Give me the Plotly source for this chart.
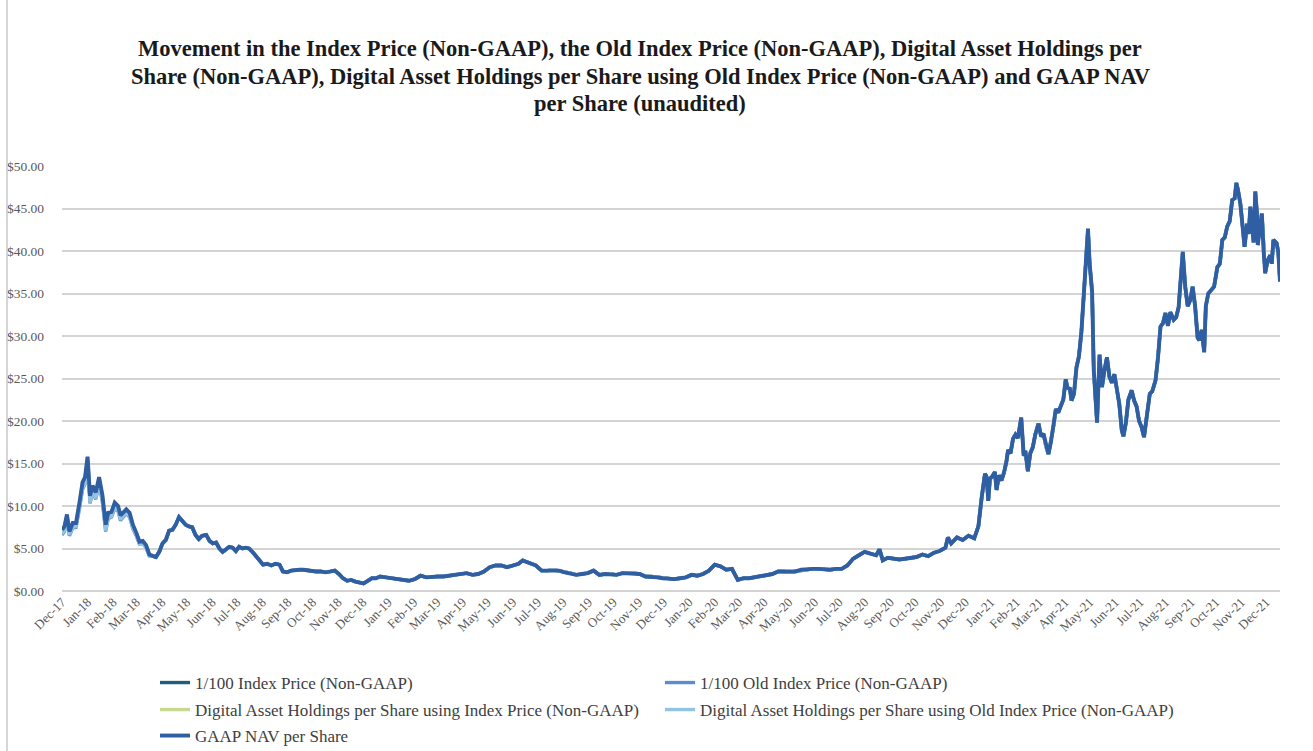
import plotly.graph_objects as go

# ---------------- data ----------------
dates_2017_2018 = [
    "2017-12-14", "2017-12-17", "2017-12-20", "2017-12-23", "2017-12-27", "2017-12-31",
    "2018-01-04", "2018-01-08", "2018-01-11", "2018-01-14", "2018-01-17", "2018-01-20", "2018-01-24", "2018-01-28",
    "2018-02-01", "2018-02-05", "2018-02-08", "2018-02-12", "2018-02-16", "2018-02-20", "2018-02-23", "2018-02-27",
    "2018-03-02", "2018-03-06", "2018-03-10", "2018-03-14", "2018-03-18", "2018-03-22", "2018-03-26", "2018-03-30",
    "2018-04-03", "2018-04-07", "2018-04-11", "2018-04-15", "2018-04-19", "2018-04-23", "2018-04-27",
    "2018-05-01", "2018-05-05", "2018-05-09", "2018-05-13", "2018-05-17", "2018-05-21", "2018-05-25", "2018-05-29",
    "2018-06-02", "2018-06-07", "2018-06-11", "2018-06-15", "2018-06-19", "2018-06-23", "2018-06-27",
    "2018-07-01", "2018-07-05", "2018-07-09", "2018-07-13", "2018-07-17", "2018-07-21", "2018-07-25", "2018-07-29",
    "2018-08-03", "2018-08-07", "2018-08-11", "2018-08-15", "2018-08-20", "2018-08-25", "2018-08-30",
    "2018-09-04", "2018-09-08", "2018-09-13", "2018-09-18", "2018-09-23", "2018-09-28",
    "2018-10-03", "2018-10-08", "2018-10-13", "2018-10-18", "2018-10-24", "2018-10-30",
    "2018-11-05", "2018-11-10", "2018-11-15", "2018-11-20", "2018-11-25", "2018-11-30",
    "2018-12-05", "2018-12-10", "2018-12-15", "2018-12-20", "2018-12-25", "2018-12-30",
]
dates_2019 = [
    "2019-01-04", "2019-01-11", "2019-01-18", "2019-01-25",
    "2019-02-01", "2019-02-08", "2019-02-15", "2019-02-22",
    "2019-03-01", "2019-03-08", "2019-03-15", "2019-03-22", "2019-03-29",
    "2019-04-05", "2019-04-12", "2019-04-19", "2019-04-26",
    "2019-05-03", "2019-05-10", "2019-05-17", "2019-05-24", "2019-05-31",
    "2019-06-07", "2019-06-14", "2019-06-21", "2019-06-26",
    "2019-07-05", "2019-07-12", "2019-07-19", "2019-07-26",
    "2019-08-02", "2019-08-09", "2019-08-16", "2019-08-23", "2019-08-30",
    "2019-09-06", "2019-09-13", "2019-09-20", "2019-09-27",
    "2019-10-04", "2019-10-11", "2019-10-18", "2019-10-25",
    "2019-11-01", "2019-11-08", "2019-11-15", "2019-11-22", "2019-11-29",
    "2019-12-06", "2019-12-13", "2019-12-20", "2019-12-27",
]
dates_2020 = [
    "2020-01-03", "2020-01-10", "2020-01-17", "2020-01-24", "2020-01-31",
    "2020-02-07", "2020-02-14", "2020-02-21", "2020-02-28",
    "2020-03-06", "2020-03-13", "2020-03-20", "2020-03-27",
    "2020-04-03", "2020-04-10", "2020-04-17", "2020-04-24",
    "2020-05-01", "2020-05-08", "2020-05-15", "2020-05-22", "2020-05-29",
    "2020-06-05", "2020-06-12", "2020-06-19", "2020-06-26",
    "2020-07-03", "2020-07-10", "2020-07-17", "2020-07-24", "2020-07-31",
    "2020-08-07", "2020-08-14", "2020-08-21", "2020-08-28",
    "2020-09-01", "2020-09-05", "2020-09-11", "2020-09-18", "2020-09-25",
    "2020-10-02", "2020-10-09", "2020-10-16", "2020-10-23", "2020-10-30",
    "2020-11-06", "2020-11-13", "2020-11-20", "2020-11-23", "2020-11-27",
    "2020-12-04", "2020-12-11", "2020-12-18", "2020-12-25", "2020-12-30",
]
dates_2021 = [
    "2021-01-03", "2021-01-05", "2021-01-07", "2021-01-09", "2021-01-11", "2021-01-13",
    "2021-01-16", "2021-01-19", "2021-01-21", "2021-01-24", "2021-01-27", "2021-01-30",
    "2021-02-02", "2021-02-04", "2021-02-07", "2021-02-10", "2021-02-13", "2021-02-16",
    "2021-02-19", "2021-02-20", "2021-02-23", "2021-02-25", "2021-02-28",
    "2021-03-03", "2021-03-06", "2021-03-09", "2021-03-13", "2021-03-16", "2021-03-19",
    "2021-03-22", "2021-03-25", "2021-03-28", "2021-03-31",
    "2021-04-03", "2021-04-06", "2021-04-09", "2021-04-12", "2021-04-15", "2021-04-17",
    "2021-04-20", "2021-04-22", "2021-04-25", "2021-04-28",
    "2021-05-01", "2021-05-04", "2021-05-07", "2021-05-10", "2021-05-12", "2021-05-14",
    "2021-05-17", "2021-05-19", "2021-05-21", "2021-05-23", "2021-05-26", "2021-05-29",
    "2021-06-01", "2021-06-04", "2021-06-07", "2021-06-10", "2021-06-13", "2021-06-16",
    "2021-06-19", "2021-06-22", "2021-06-24", "2021-06-27", "2021-06-30",
    "2021-07-04", "2021-07-07", "2021-07-10", "2021-07-13", "2021-07-16", "2021-07-19",
    "2021-07-22", "2021-07-26", "2021-07-29",
    "2021-08-02", "2021-08-05", "2021-08-08", "2021-08-11", "2021-08-14", "2021-08-17",
    "2021-08-20", "2021-08-24", "2021-08-27", "2021-08-30",
    "2021-09-02", "2021-09-04", "2021-09-07", "2021-09-10", "2021-09-13", "2021-09-16",
    "2021-09-19", "2021-09-22", "2021-09-24", "2021-09-27", "2021-09-30",
    "2021-10-02", "2021-10-05", "2021-10-08", "2021-10-12", "2021-10-16", "2021-10-19",
    "2021-10-22", "2021-10-25", "2021-10-28", "2021-10-31",
    "2021-11-03", "2021-11-06", "2021-11-08", "2021-11-10", "2021-11-13", "2021-11-16",
    "2021-11-18", "2021-11-21", "2021-11-23", "2021-11-25", "2021-11-27", "2021-11-29",
    "2021-12-01", "2021-12-03", "2021-12-04", "2021-12-07", "2021-12-09", "2021-12-11",
    "2021-12-13", "2021-12-16", "2021-12-19", "2021-12-21", "2021-12-23", "2021-12-27",
    "2021-12-29", "2021-12-31",
]

# Dec-2017 .. Mar-2018: the five series separate slightly (first 30 dates)
index_price_early = [7.0, 7.4, 8.8, 6.8, 7.8, 7.8,
                     10.0, 12.5, 13.1, 15.4, 10.9, 12.1, 11.3, 13.1,
                     11.0, 7.5, 8.9, 9.1, 10.1, 9.8, 8.7, 9.1,
                     9.4, 9.0, 7.6, 6.7, 5.7, 5.8, 5.3, 4.2]
old_index_price_early = [6.6, 7.0, 8.4, 6.5, 7.4, 7.5,
                         9.6, 12.0, 12.6, 15.0, 10.3, 11.6, 10.8, 12.6,
                         10.5, 7.0, 8.5, 8.7, 9.7, 9.4, 8.3, 8.8,
                         9.1, 8.7, 7.3, 6.5, 5.5, 5.6, 5.1, 4.1]
holdings_index_early = [7.1, 7.5, 8.9, 6.9, 7.9, 7.9,
                        10.2, 12.7, 13.3, 15.6, 11.0, 12.3, 11.5, 13.3,
                        11.2, 7.7, 9.1, 9.2, 10.3, 9.9, 8.8, 9.2,
                        9.5, 9.1, 7.7, 6.8, 5.8, 5.9, 5.4, 4.3]
holdings_old_index_early = [6.7, 7.1, 8.5, 6.6, 7.5, 7.6,
                            9.7, 12.1, 12.7, 15.1, 10.4, 11.7, 10.9, 12.7,
                            10.6, 7.1, 8.6, 8.8, 9.8, 9.5, 8.4, 8.9,
                            9.2, 8.8, 7.4, 6.6, 5.5, 5.6, 5.1, 4.1]
gaap_nav_early = [7.2, 7.6, 9.0, 7.0, 8.0, 8.0,
                  10.3, 12.8, 13.4, 15.8, 11.2, 12.4, 11.6, 13.4,
                  11.3, 7.8, 9.2, 9.3, 10.4, 10.0, 8.9, 9.3,
                  9.6, 9.2, 7.8, 6.9, 5.8, 5.9, 5.4, 4.3]

# Apr-2018 .. Dec-2021: all five series coincide within the line width
shared_2018 = [4.1, 4.0, 4.6, 5.6, 6.0, 7.1, 7.2,
               7.8, 8.7, 8.2, 7.8, 7.6, 7.5, 6.6, 6.1,
               6.5, 6.6, 5.9, 5.6, 5.7, 5.0, 4.6,
               4.9, 5.2, 5.1, 4.7, 5.2, 5.0, 5.1, 5.0,
               4.5, 4.0, 3.6, 3.1, 3.2, 3.0, 3.2,
               3.1, 2.3, 2.2, 2.4, 2.5, 2.5,
               2.5, 2.4, 2.3, 2.3, 2.3, 2.2,
               2.3, 2.4, 2.0, 1.5, 1.2, 1.3,
               1.1, 0.95, 0.9, 1.2, 1.5, 1.5]
shared_2019 = [1.7, 1.6, 1.5, 1.5,
               1.3, 1.2, 1.4, 1.8,
               1.6, 1.7, 1.7, 1.7, 1.8,
               2.0, 2.0, 2.1, 1.9,
               2.0, 2.3, 2.8, 3.0, 3.0,
               2.8, 3.0, 3.2, 3.6,
               3.3, 3.0, 2.4, 2.4,
               2.5, 2.4, 2.2, 2.1, 1.9,
               2.0, 2.1, 2.4, 1.9,
               2.0, 2.0, 1.9, 2.1,
               2.1, 2.1, 2.0, 1.7, 1.7,
               1.6, 1.5, 1.4, 1.4]
shared_2020 = [1.5, 1.6, 1.9, 1.8, 2.0,
               2.4, 3.1, 2.9, 2.5,
               2.6, 1.3, 1.5, 1.5,
               1.6, 1.8, 1.9, 2.0,
               2.3, 2.3, 2.2, 2.3, 2.5,
               2.6, 2.6, 2.6, 2.5,
               2.5, 2.6, 2.6, 3.0, 3.8,
               4.2, 4.6, 4.4, 4.2,
               4.9, 3.6, 3.9, 3.8, 3.7,
               3.8, 3.9, 4.0, 4.3, 4.1,
               4.5, 4.7, 5.1, 6.3, 5.6,
               6.3, 6.0, 6.5, 6.2, 7.6]
shared_2021 = [11.0, 12.6, 13.8, 13.4, 10.6, 13.2, 13.5, 14.0, 11.9, 13.6, 13.0, 13.9,
               15.2, 16.6, 16.2, 17.9, 18.4, 18.0, 19.9, 20.4, 15.9, 16.5, 14.1,
               16.2, 16.9, 18.4, 19.7, 18.2, 18.5, 17.0, 16.1, 17.5, 19.3,
               21.4, 21.0, 21.8, 22.5, 24.9, 23.9, 23.8, 22.4, 23.2, 26.3,
               27.6, 30.5, 35.0, 39.8, 42.6, 38.5, 35.2, 26.0, 23.5, 19.8, 27.8, 24.0,
               26.0, 27.5, 25.2, 24.5, 25.5, 24.0, 22.0, 18.9, 18.2, 19.8, 22.5,
               23.6, 22.4, 21.7, 20.0, 19.3, 18.1, 20.3, 23.2, 23.5,
               24.8, 27.5, 31.1, 31.5, 32.7, 31.2, 32.8, 31.9, 32.2, 33.4,
               37.8, 39.9, 35.8, 33.5, 34.2, 35.8, 33.5, 29.8, 29.5, 30.7, 28.1,
               33.5, 35.0, 35.3, 35.8, 38.1, 38.5, 41.3, 41.6, 42.9, 43.5,
               46.0, 46.2, 48.0, 47.2, 45.5, 42.8, 40.5, 43.2, 42.0, 45.2, 42.5, 41.0,
               47.0, 44.5, 40.7, 43.5, 44.4, 40.2, 37.4, 38.9, 39.5, 38.5, 41.3, 40.9,
               39.8, 36.4]

series_names = [
    "1/100 Index Price (Non-GAAP)",
    "1/100 Old Index Price (Non-GAAP)",
    "Digital Asset Holdings per Share using Index Price (Non-GAAP)",
    "Digital Asset Holdings per Share using Old Index Price (Non-GAAP)",
    "GAAP NAV per Share",
]
y_tick_values = [0, 5, 10, 15, 20, 25, 30, 35, 40, 45, 50]
y_tick_labels = ["$0.00", "$5.00", "$10.00", "$15.00", "$20.00", "$25.00",
                 "$30.00", "$35.00", "$40.00", "$45.00", "$50.00"]
title_lines = [
    "Movement in the Index Price (Non-GAAP), the Old Index Price (Non-GAAP), Digital Asset Holdings per",
    "Share (Non-GAAP), Digital Asset Holdings per Share using Old Index Price (Non-GAAP) and GAAP NAV",
    "per Share (unaudited)",
]

# ---------------- build ----------------
dates = dates_2017_2018 + dates_2019 + dates_2020 + dates_2021
shared = shared_2018 + shared_2019 + shared_2020 + shared_2021
series_values = [
    index_price_early + shared,
    old_index_price_early + shared,
    holdings_index_early + shared,
    holdings_old_index_early + shared,
    gaap_nav_early + shared,
]
colors = ["#1d5f7c", "#5b8ccf", "#c6d98f", "#93c3e3", "#2f5ea3"]
widths = [3.4, 3.4, 3.4, 3.4, 3.9]
legend_ids = ["legend", "legend2", "legend3", "legend4", "legend5"]

fig = go.Figure()
for name, vals, col, w, lg in zip(series_names, series_values, colors, widths, legend_ids):
    fig.add_trace(go.Scatter(x=dates, y=vals, mode="lines", name=name,
                             line=dict(color=col, width=w), legend=lg))

W, H = 1313, 751
L, R, T, B = 62, 33, 166, 160
pw, ph = W - L - R, H - T - B


def px_x(px):
    return (px - L) / pw


def px_y(py):
    return (H - B - py) / ph


serif = "Liberation Serif, Times New Roman, serif"
legend_pos = [(155, 683), (660, 683), (155, 710), (660, 710), (155, 736)]
legend_layouts = {}
for lg, (lx, ly) in zip(legend_ids, legend_pos):
    legend_layouts[lg] = dict(
        x=px_x(lx), y=px_y(ly), xanchor="left", yanchor="middle",
        orientation="h", bgcolor="rgba(0,0,0,0)", borderwidth=0,
        font=dict(family=serif, size=17, color="#404040"),
        itemwidth=30,
    )

annotations = []
for i, line in enumerate(title_lines):
    annotations.append(dict(
        text="<b>" + line + "</b>", xref="paper", yref="paper",
        x=px_x(640), y=px_y(48 + 28 * i), xanchor="center", yanchor="middle",
        showarrow=False, font=dict(family=serif, size=22.5, color="#1a1a1a"),
    ))

fig.update_layout(
    width=W, height=H,
    margin=dict(l=L, r=R, t=T, b=B, autoexpand=False),
    paper_bgcolor="white", plot_bgcolor="white",
    showlegend=True,
    annotations=annotations,
    shapes=[dict(type="line", xref="paper", yref="paper",
                 x0=px_x(7), x1=px_x(7), y0=px_y(0), y1=px_y(760),
                 line=dict(color="#c9c9c9", width=1.5))],
    **legend_layouts,
)
fig.update_xaxes(
    type="date", range=["2017-12-14", "2021-12-31"],
    tick0="2017-12-14", dtick="M1", tickformat="%b-%y", tickangle=-45,
    showgrid=False, showline=False, zeroline=False, ticks="",
    tickfont=dict(family=serif, size=13, color="#595959"),
)
fig.update_yaxes(
    range=[0, 50], tickvals=y_tick_values, ticktext=y_tick_labels,
    showgrid=True, gridcolor="#d4d4d4", gridwidth=1.5,
    zeroline=True, zerolinecolor="#d4d4d4", zerolinewidth=1.5,
    showline=False, ticks="", ticklabelstandoff=17,
    tickfont=dict(family=serif, size=13.5, color="#595959"),
)

fig.write_html("out.html", config={"displayModeBar": False},
               post_script="document.body.style.margin='0px';")
